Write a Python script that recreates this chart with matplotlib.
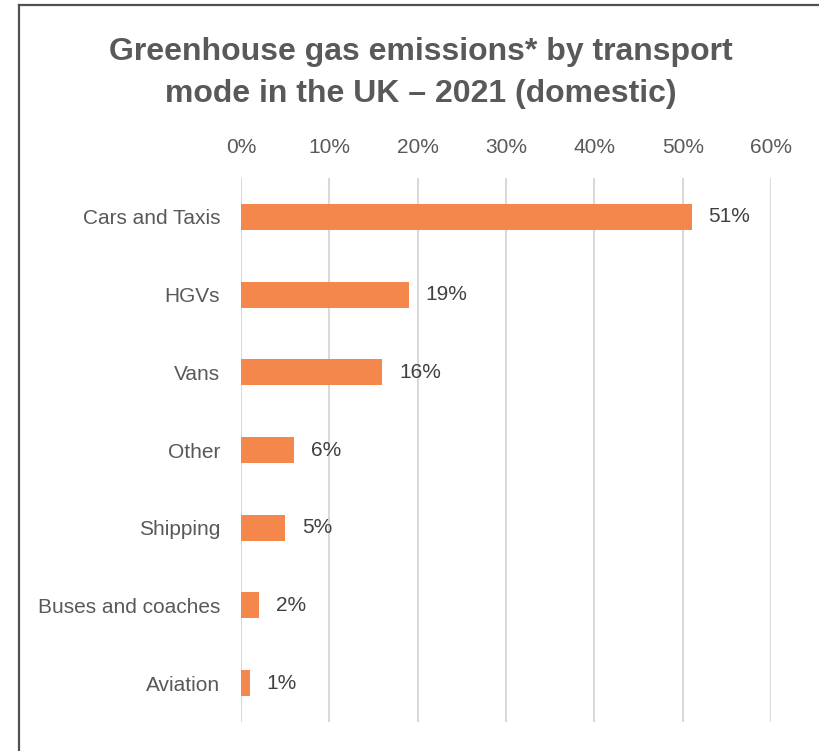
import matplotlib.pyplot as plt
from matplotlib.lines import Line2D

categories = ['Cars and Taxis', 'HGVs', 'Vans', 'Other', 'Shipping', 'Buses and coaches', 'Aviation']
shares = [51, 19, 16, 6, 5, 2, 1]
ticks = [0, 10, 20, 30, 40, 50, 60]
tick_labels = ['0%', '10%', '20%', '30%', '40%', '50%', '60%']
title_lines = ['Greenhouse gas emissions* by transport',
               'mode in the UK \u2013 2021 (domestic)']

font = ['Liberation Sans', 'DejaVu Sans']

fig = plt.figure(figsize=(8.2, 7.51), dpi=100)
ax = fig.add_axes([241 / 820, 1 - 722 / 751, 530 / 820, 544 / 751])

y = list(range(len(categories)))
bars = ax.barh(y, shares, height=0.335, color='#F4874B', zorder=3)
ax.set_ylim(len(categories) - 0.5, -0.5)
ax.set_xlim(0, 60)

ax.set_xticks(ticks)
ax.set_xticklabels(tick_labels, family=font, fontsize=15, color='#595959')
ax.xaxis.tick_top()
ax.tick_params(axis='x', length=0, pad=15)
ax.set_yticks(y)
ax.set_yticklabels(categories, family=font, fontsize=15, color='#595959')
ax.tick_params(axis='y', length=0, pad=15)

ax.grid(axis='x', color='#D9D9D9', linewidth=1.5, zorder=0)
for s in ax.spines.values():
    s.set_visible(False)

for bar, v in zip(bars, shares):
    ax.annotate(f'{v}%', (bar.get_width(), bar.get_y() + bar.get_height() / 2),
                xytext=(17, 0), textcoords='offset pixels',
                ha='left', va='center', family=font, fontsize=15, color='#404040')

for line, base in zip(title_lines, [60, 102]):
    fig.text(421 / 820, 1 - base / 751, line, ha='center', va='baseline',
             family=font, fontweight='bold', fontsize=23, color='#595959')

# chart frame (left and top edges visible)
fig.add_artist(Line2D([19 / 820, 19 / 820], [0, 1 - 5 / 751], transform=fig.transFigure,
                      color='#505050', linewidth=1.6))
fig.add_artist(Line2D([19 / 820, 1], [1 - 5 / 751, 1 - 5 / 751], transform=fig.transFigure,
                      color='#505050', linewidth=1.6))

fig.savefig('out.png', dpi=100, facecolor='white')
